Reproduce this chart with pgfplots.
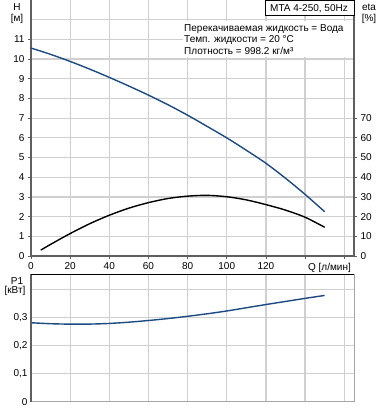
\documentclass[border=0pt]{standalone}
\usepackage{fontspec}
\setmainfont{Liberation Sans}
\usepackage{pgfplots}
\pgfplotsset{compat=1.18}
\definecolor{curveblue}{RGB}{28,74,130}
\definecolor{gridc}{RGB}{208,208,208}
\definecolor{axc}{RGB}{95,95,95}
\begin{document}
\fontsize{10}{12}\selectfont
\begin{tikzpicture}
\useasboundingbox (0pt,0pt) rectangle (378pt,-410pt);
\pgfplotsset{every axis/.append style={scale only axis, clip=false,
  /pgf/number format/assume math mode=true,
  tick label style={font=\fontsize{10}{12}\selectfont},
  major grid style={gridc, line width=1.3pt},
  axis line style={draw=none},
  tick style={axc, line width=0.8pt},
  major tick length=3pt, tick align=outside}}
% eta axis ticks
\begin{axis}[at={(31pt,-256pt)}, anchor=south west, width=323pt, height=256pt,
  xmin=0, xmax=165, ymin=0, ymax=130,
  xtick=\empty, ytick={0,10,...,70}, ytick pos=right]
\end{axis}
% upper axis frame: H
\begin{axis}[at={(31pt,-256pt)}, anchor=south west, width=323pt, height=256pt,
  xmin=0, xmax=165, ymin=0, ymax=13,
  xtick={0,20,...,160}, xticklabels={0,20,40,60,80,100,120,{},{}},
  ytick={0,1,...,11},
  xtick pos=bottom, ytick pos=left]
\end{axis}
% lower axis: P1
\begin{axis}[at={(31pt,-401.7pt)}, anchor=south west, width=323pt, height=127.4pt,
  xmin=0, xmax=165, ymin=0, ymax=0.455, grid=major,
  xtick={0,20,...,160}, xticklabels={},
  ytick={0,0.1,0.2,0.3,0.4}, yticklabels={0,{0,1},{0,2},{0,3},},
  major tick length=0pt]
\addplot[curveblue, line width=1.4pt, smooth] coordinates {
(0,0.2820) (10,0.2785) (20,0.2770) (30,0.2772) (40,0.2795) (50,0.2840) (60,0.2900) (70,0.2970)
(80,0.3050) (90,0.3140) (100,0.3240) (110,0.3355) (120,0.3470) (130,0.3580) (140,0.3690) (150,0.3795)};
\draw[gray!70, line width=1pt] (rel axis cs:0,0) -- (rel axis cs:1,0) -- (rel axis cs:1,1);
\draw[axc, line width=1.6pt] (rel axis cs:0,0) -- (rel axis cs:0,1);
\draw[black, line width=1.2pt] (rel axis cs:0,1) -- (rel axis cs:1,1);
\end{axis}
% grid of the upper panel
\foreach \q in {20,40,...,160} {
  \draw[gridc, line width=1.3pt] ({31pt+\q*1.9576pt},-256pt) -- ({31pt+\q*1.9576pt},0pt);}
\foreach \h in {1,...,12} {
  \draw[gridc, line width=1.3pt] (31pt,{-256pt+\h*19.6923pt}) -- (354pt,{-256pt+\h*19.6923pt});}
\draw[axc, line width=1.6pt] (31pt,0pt) -- (31pt,-256pt) -- (354pt,-256pt) -- (354pt,0pt);
% H curve
\begin{axis}[at={(31pt,-256pt)}, anchor=south west, width=323pt, height=256pt,
  xmin=0, xmax=165, ymin=0, ymax=13, hide axis]
\addplot[curveblue, line width=1.4pt, smooth] coordinates {
(0,10.56) (10,10.24) (20,9.88) (30,9.49) (40,9.07) (50,8.63) (60,8.17) (70,7.68)
(80,7.15) (90,6.58) (100,6.00) (110,5.37) (120,4.71) (130,3.95) (140,3.13) (150,2.25)};
\end{axis}
% eta curve
\begin{axis}[at={(31pt,-256pt)}, anchor=south west, width=323pt, height=256pt,
  xmin=0, xmax=165, ymin=0, ymax=130, hide axis]
\addplot[black, line width=1.4pt, smooth] coordinates {
(5,3.0) (10,5.9) (20,11.4) (30,16.4) (40,20.7) (50,24.3) (60,27.1) (70,29.2)
(80,30.4) (90,30.8) (100,30.1) (110,28.5) (120,26.1) (130,23.3) (140,19.7) (150,14.6)};
\end{axis}
% info box
\fill[white] (183pt,-21pt) rectangle (353pt,-57pt);
\node[anchor=base west, inner sep=0pt] at (184pt,-31pt) {Перекачиваемая жидкость = Вода};
\node[anchor=base west, inner sep=0pt] at (184pt,-42.7pt) {Темп. жидкости = 20 °C};
\node[anchor=base west, inner sep=0pt] at (184pt,-54.3pt) {Плотность = 998.2 кг/м³};
\draw[fill=white, line width=0.9pt] (265pt,0pt) rectangle (354.5pt,-15pt);
\node[anchor=base west, inner sep=0pt] at (270pt,-11.5pt) {MTA 4-250, 50Hz};
% axis titles
\node[anchor=base, inner sep=0pt] at (17pt,-10.5pt) {H};
\node[anchor=base, inner sep=0pt] at (17pt,-21pt) {[м]};
\node[anchor=base, inner sep=0pt] at (369pt,-10.5pt) {eta};
\node[anchor=base, inner sep=0pt] at (369pt,-21pt) {[\%]};
\node[anchor=base, inner sep=0pt] at (17pt,-284.5pt) {P1};
\node[anchor=base, inner sep=0pt] at (15pt,-293.5pt) {[кВт]};
\node[anchor=base east, inner sep=0pt] at (351pt,-270pt) {Q [л/мин]};
\end{tikzpicture}
\end{document}
